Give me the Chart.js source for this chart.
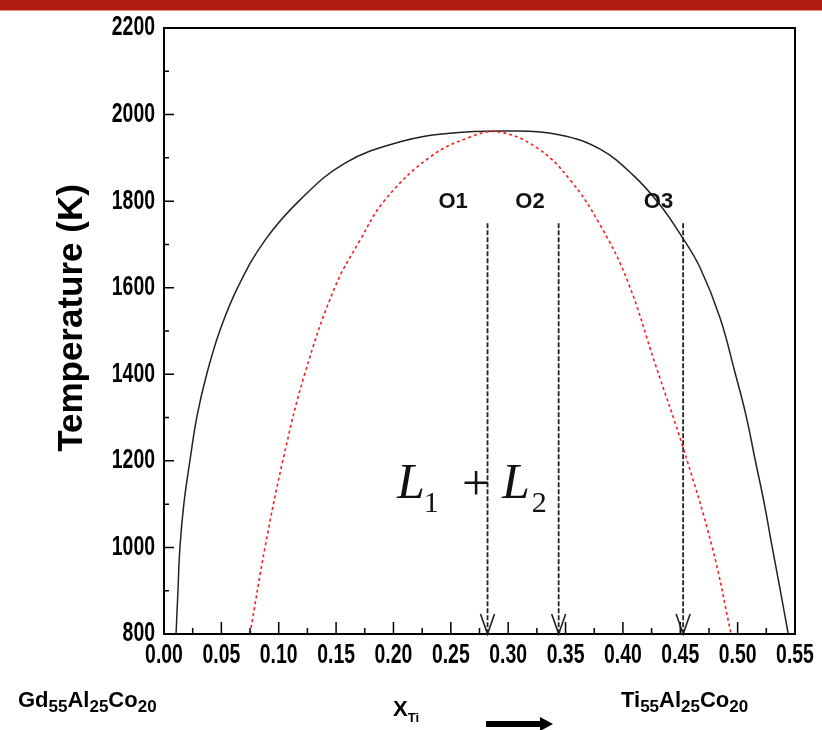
<!DOCTYPE html>
<html>
<head>
<meta charset="utf-8">
<script src="https://cdn.jsdelivr.net/npm/chart.js@4.4.0/dist/chart.umd.min.js"></script>
<style>
html, body { margin: 0; padding: 0; background: #fff; }
#grafico { display: block; }
</style>
</head>
<body>
<canvas id="grafico" width="822" height="730"></canvas>
<script>
// curva binodal (preta)
var binodalX = [0.0105, 0.0122, 0.0139, 0.0174, 0.0227, 0.0288, 0.0375, 0.0488, 0.0645, 0.0881, 0.1186, 0.1578, 0.2058, 0.2493, 0.3017, 0.3452, 0.3801, 0.4089, 0.4324, 0.4516, 0.4673, 0.4847, 0.4978, 0.5074, 0.5153, 0.5231, 0.5301, 0.5371, 0.5441];
var binodalT = [800, 902, 1001, 1103, 1202, 1304, 1403, 1502, 1602, 1710, 1803, 1888, 1937, 1957, 1962, 1953, 1920, 1860, 1791, 1717, 1646, 1530, 1403, 1304, 1202, 1103, 1001, 902, 800];

// curva espinodal (vermelha tracejada)
var espinodalX = [0.075, 0.0881, 0.1037, 0.1229, 0.1491, 0.1709, 0.1927, 0.2319, 0.2668, 0.2912, 0.3252, 0.354, 0.3801, 0.4037, 0.4281, 0.4525, 0.4778, 0.4943];
var espinodalT = [800, 1001, 1202, 1403, 1602, 1710, 1803, 1902, 1948, 1960, 1923, 1849, 1745, 1618, 1424, 1230, 1001, 800];

// setas O1, O2, O3
var setaNomes = ["O1", "O2", "O3"];
var setaX = [0.282, 0.344, 0.4525];
var setaTopo = 1749;
var setaBase = 800;
var rotuloX = [0.252, 0.319, 0.431];
var rotuloT = 1798;

var xTicks = [0, 0.05, 0.10, 0.15, 0.20, 0.25, 0.30, 0.35, 0.40, 0.45, 0.50, 0.55];
var xTickLabels = ["0.00", "0.05", "0.10", "0.15", "0.20", "0.25", "0.30", "0.35", "0.40", "0.45", "0.50", "0.55"];
var yTicks = [800, 1000, 1200, 1400, 1600, 1800, 2000, 2200];
var yTickLabels = ["800", "1000", "1200", "1400", "1600", "1800", "2000", "2200"];

function pontos(xs, ts) {
    return xs.map(function (x, i) { return { x: x, y: ts[i] }; });
}

var datasets = [
    {
        label: "Espinodal",
        data: pontos(espinodalX, espinodalT),
        borderColor: "#ff1a1a",
        borderWidth: 1.6,
        borderDash: [3, 3],
        tension: 0.4,
        showLine: true,
        pointRadius: 0
    },
    {
        label: "Binodal",
        data: pontos(binodalX, binodalT),
        borderColor: "#222",
        borderWidth: 1.5,
        tension: 0.4,
        showLine: true,
        pointRadius: 0
    }
];

setaX.forEach(function (x, i) {
    datasets.push({
        label: setaNomes[i],
        data: [{ x: x, y: setaTopo }, { x: x, y: setaBase }],
        borderColor: "#222",
        borderWidth: 1.8,
        borderDash: [5, 2],
        showLine: true,
        pointRadius: 0
    });
});

function texto(ctx, s, x, y, font) {
    ctx.font = font;
    ctx.fillText(s, x, y);
    return x + ctx.measureText(s).width;
}

// texto estreito (fonte condensada na horizontal)
function textoEstreito(ctx, s, x, y, alinha) {
    ctx.save();
    ctx.translate(x, y);
    ctx.scale(0.72, 1);
    ctx.textAlign = alinha;
    ctx.textBaseline = "middle";
    ctx.font = 'bold 27px "Liberation Sans", Arial, sans-serif';
    ctx.fillText(s, 0, 0);
    ctx.restore();
}

// escreve formula com subscritos: partes alternadas normal / subscrito
function formula(ctx, partes, x, y) {
    partes.forEach(function (p, i) {
        if (i % 2 == 0) x = texto(ctx, p, x, y, 'bold 22px "Liberation Sans", Arial, sans-serif');
        else x = texto(ctx, p, x, y + 5, 'bold 17px "Liberation Sans", Arial, sans-serif');
    });
}

var desenho = {
    id: 'desenho',
    beforeDraw: function (chart) {
        var ctx = chart.ctx;
        ctx.save();
        ctx.fillStyle = "#fff";
        ctx.fillRect(0, 0, chart.width, chart.height);
        ctx.fillStyle = "#b21c10";
        ctx.fillRect(0, 0, chart.width, 10);
        ctx.fillStyle = "#e58a80";
        ctx.fillRect(0, 10, chart.width, 1);
        ctx.restore();
    },
    afterDatasetsDraw: function (chart) {
        var ctx = chart.ctx;
        var a = chart.chartArea;
        var xs = chart.scales.x;
        var ys = chart.scales.y;
        ctx.save();

        // caixa
        ctx.strokeStyle = "#000";
        ctx.lineWidth = 2;
        ctx.strokeRect(a.left, a.top, a.right - a.left, a.bottom - a.top);

        // ticks para dentro
        ctx.lineWidth = 1.5;
        ctx.beginPath();
        xTicks.forEach(function (v, i) {
            var px = xs.getPixelForValue(v);
            ctx.moveTo(px, a.bottom); ctx.lineTo(px, a.bottom - 12);
            if (i < xTicks.length - 1) {
                var pm = xs.getPixelForValue((v + xTicks[i + 1]) / 2);
                ctx.moveTo(pm, a.bottom); ctx.lineTo(pm, a.bottom - 6);
            }
        });
        yTicks.forEach(function (v, i) {
            var py = ys.getPixelForValue(v);
            ctx.moveTo(a.left, py); ctx.lineTo(a.left + 10, py);
            if (i < yTicks.length - 1) {
                var pm = ys.getPixelForValue((v + yTicks[i + 1]) / 2);
                ctx.moveTo(a.left, pm); ctx.lineTo(a.left + 5, pm);
            }
        });
        ctx.stroke();

        // rotulos dos ticks
        ctx.fillStyle = "#000";
        xs.ticks.forEach(function (t, i) {
            textoEstreito(ctx, xTickLabels[i], xs.getPixelForTick(i), a.bottom + 22, "center");
        });
        ys.ticks.forEach(function (t, i) {
            textoEstreito(ctx, yTickLabels[i], a.left - 9, ys.getPixelForTick(i), "right");
        });

        // pontas das setas
        ctx.strokeStyle = "#222";
        ctx.lineWidth = 1.6;
        ctx.beginPath();
        setaX.forEach(function (x) {
            var px = xs.getPixelForValue(x);
            var py = ys.getPixelForValue(setaBase);
            ctx.moveTo(px - 7, py - 20); ctx.lineTo(px, py); ctx.lineTo(px + 7, py - 20);
        });
        ctx.stroke();

        // rotulos O1..O3
        ctx.fillStyle = "#111";
        ctx.textAlign = "center";
        ctx.textBaseline = "middle";
        ctx.font = 'bold 22px "Liberation Sans", Arial, sans-serif';
        setaNomes.forEach(function (n, i) {
            ctx.fillText(n, xs.getPixelForValue(rotuloX[i]), ys.getPixelForValue(rotuloT));
        });

        // L1 + L2
        ctx.textAlign = "left";
        ctx.textBaseline = "alphabetic";
        var serifI = 'italic 50px "Liberation Serif", "Times New Roman", serif';
        var serifSub = '30px "Liberation Serif", "Times New Roman", serif';
        var x = texto(ctx, "L", 397, 498, serifI);
        texto(ctx, "1", x - 1, 512, serifSub);
        ctx.textAlign = "center";
        texto(ctx, "+", 476, 500, '50px "Liberation Serif", "Times New Roman", serif');
        ctx.textAlign = "left";
        x = texto(ctx, "L", 502, 498, serifI);
        texto(ctx, "2", x + 2, 512, serifSub);

        // titulo eixo y
        ctx.save();
        ctx.translate(72, 318);
        ctx.rotate(-Math.PI / 2);
        ctx.textAlign = "center";
        ctx.textBaseline = "middle";
        ctx.fillStyle = "#000";
        ctx.font = 'bold 35px "Liberation Sans", Arial, sans-serif';
        ctx.fillText("Temperature (K)", 0, 0);
        ctx.restore();

        // legendas de composicao
        ctx.fillStyle = "#000";
        ctx.textAlign = "left";
        formula(ctx, ["Gd", "55", "Al", "25", "Co", "20"], 18, 707);
        formula(ctx, ["Ti", "55", "Al", "25", "Co", "20"], 621, 707);
        x = texto(ctx, "X", 393, 716, 'bold 22px "Liberation Sans", Arial, sans-serif');
        texto(ctx, "Ti", x, 722, 'bold 13px "Liberation Sans", Arial, sans-serif');

        // seta grossa
        ctx.beginPath();
        ctx.moveTo(486, 721);
        ctx.lineTo(540, 721);
        ctx.lineTo(540, 717);
        ctx.lineTo(553, 724);
        ctx.lineTo(540, 731);
        ctx.lineTo(540, 727);
        ctx.lineTo(486, 727);
        ctx.closePath();
        ctx.fill();

        ctx.restore();
    }
};

var ctx = document.getElementById("grafico").getContext("2d");
var grafico = new Chart(ctx, {
    type: 'scatter',
    data: { datasets: datasets },
    options: {
        responsive: false,
        animation: false,
        devicePixelRatio: 1,
        layout: { padding: { left: 0, top: 28, right: 27, bottom: 0 } },
        plugins: {
            legend: { display: false },
            tooltip: { enabled: false }
        },
        scales: {
            x: {
                type: 'linear',
                min: 0,
                max: 0.55,
                afterBuildTicks: function (scale) {
                    scale.ticks = xTicks.map(function (v) { return { value: v }; });
                },
                afterFit: function (scale) { scale.height = 96; },
                grid: { display: false, drawTicks: false, tickLength: 0 },
                border: { display: false },
                ticks: { display: false }
            },
            y: {
                type: 'linear',
                min: 800,
                max: 2200,
                afterBuildTicks: function (scale) {
                    scale.ticks = yTicks.map(function (v) { return { value: v }; });
                },
                afterFit: function (scale) { scale.width = 164; },
                grid: { display: false, drawTicks: false, tickLength: 0 },
                border: { display: false },
                ticks: { display: false }
            }
        }
    },
    plugins: [desenho]
});
</script>
</body>
</html>
